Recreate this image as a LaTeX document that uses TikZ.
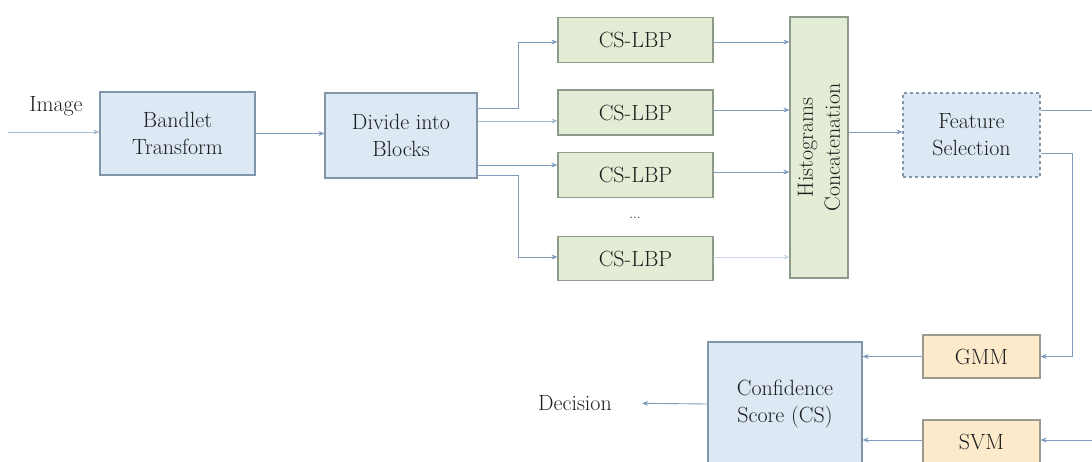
\documentclass[tikz,border=0pt]{standalone}
\usetikzlibrary{arrows.meta}
\definecolor{bluefill}{HTML}{DCE8F4}
\definecolor{blueedge}{HTML}{8296AA}
\definecolor{greenfill}{HTML}{E3EDD6}
\definecolor{greenedge}{HTML}{8E9A8A}
\definecolor{orangefill}{HTML}{FCEACB}
\definecolor{orangeedge}{HTML}{9A9A90}
\definecolor{linecol}{HTML}{7E9DBE}
\definecolor{tipcol}{HTML}{5A7A9A}
\definecolor{textcol}{HTML}{1E1E1E}
\tikzset{
  box/.style={draw, line width=1.2pt, minimum width=#1, align=center, inner sep=0pt, text=textcol,
              font=\fontsize{22}{27}\selectfont},
  bluebox/.style={box=#1, fill=bluefill, draw=blueedge},
  greenbox/.style={box=155pt, fill=greenfill, draw=greenedge, minimum height=45pt},
  orangebox/.style={box=117pt, fill=orangefill, draw=orangeedge},
  lbl/.style={text=textcol, font=\fontsize{22}{27}\selectfont, inner sep=0pt},
  arr/.style={draw=linecol, line width=0.9pt, -{Stealth[length=6pt,width=5pt,fill=tipcol]}},
}
\begin{document}
\begin{tikzpicture}[x=1pt,y=-1pt]
\useasboundingbox (0,0) rectangle (1092,462);
\clip (0,0) rectangle (1092,462);
\fill[white] (0,0) rectangle (1092,462);

% nodes
\node[lbl] (img) at (56,106) {Image};
\coordinate (imgin) at (8,132);
\node[bluebox=155pt, minimum height=83pt] (bandlet) at (177.5,133.5) {Bandlet\\Transform};
\node[bluebox=152pt, minimum height=85pt] (divide) at (401,135.5) {Divide into\\Blocks};
\node[greenbox] (cs1) at (635.5,40) {CS-LBP};
\node[greenbox] (cs2) at (635.5,112.5) {CS-LBP};
\node[greenbox] (cs3) at (635.5,175) {CS-LBP};
\node[greenbox, minimum height=44pt] (cs4) at (635.5,258.5) {CS-LBP};
\node[lbl, font=\fontsize{14}{16}\selectfont] (dots) at (635,218) {...};
\node[box=261pt, fill=greenfill, draw=greenedge, minimum height=58pt, rotate=90] (hist) at (819,147.5) {Histograms\\Concatenation};
\node[bluebox=137pt, minimum height=84pt, dashed, dash pattern=on 3pt off 3pt] (feat) at (971.5,135) {Feature\\Selection};
\node[orangebox, minimum height=43pt] (gmm) at (981.5,356.5) {GMM};
\node[orangebox, minimum height=44pt] (svm) at (981.5,442) {SVM};
\node[bluebox=154pt, minimum height=124pt] (conf) at (785,404) {Confidence\\Score (CS)};
\node[lbl] (dec) at (575,403) {Decision};
\coordinate (rout) at (1110,110);
\coordinate (rin) at (1110,440);

% connectors
\draw[arr, draw=linecol!70] (imgin) -- (bandlet.west |- imgin);
\draw[arr] (bandlet.east) -- (divide.west |- bandlet.east);
\draw[arr] (divide.east |- 0,108) -- (518,108) |- (cs1.west |- 0,42);
\draw[arr, draw=linecol!70] (divide.east |- 0,121) -- (cs2.west |- 0,121);
\draw[arr] (divide.east |- 0,165) -- (cs3.west |- 0,165);
\draw[arr] (divide.east |- 0,175) -- (518,175) |- (cs4.west |- 0,257);
\draw[arr] (cs1.east |- 0,42) -- (hist.north |- 0,42);
\draw[arr] (cs2.east |- 0,110) -- (hist.north |- 0,110);
\draw[arr] (cs3.east |- 0,172) -- (hist.north |- 0,172);
\draw[arr, draw=linecol!40] (cs4.east |- 0,257) -- (hist.north |- 0,257);
\draw[arr] (hist.south |- 0,132) -- (feat.west |- 0,132);
\draw[draw=linecol, line width=0.9pt] (feat.east |- 0,110) -- (rout |- 0,110);
\draw[arr] (feat.east |- 0,153) -- (1072,153) |- (gmm.east);
\draw[arr] (rin) -- (svm.east |- rin);
\draw[arr] (gmm.west) -- (conf.east |- gmm.west);
\draw[arr] (svm.west |- rin) -- (conf.east |- rin);
\draw[arr, shorten >=30pt] (conf.west) -- (dec.east);
\end{tikzpicture}
\end{document}
